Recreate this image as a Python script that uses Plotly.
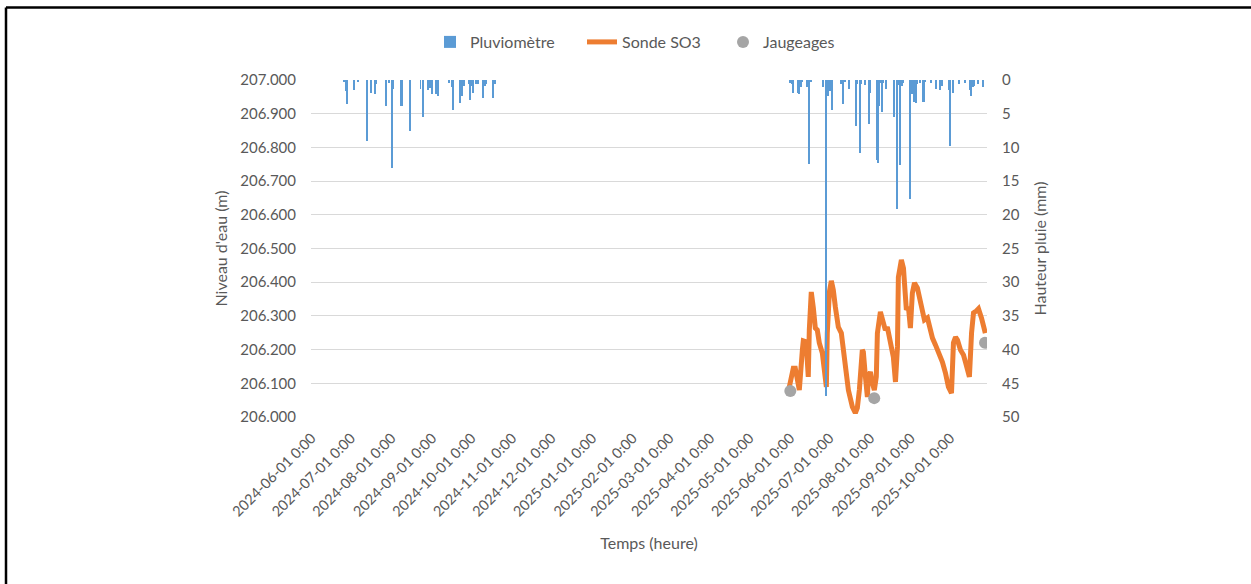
import plotly.graph_objects as go

# ---------------- data ----------------
rain_dates = [
    "2024-06-26", "2024-06-27", "2024-06-28", "2024-07-03", "2024-07-06", "2024-07-13",
    "2024-07-16", "2024-07-19", "2024-07-20", "2024-07-28", "2024-07-30", "2024-08-01",
    "2024-08-02", "2024-08-08", "2024-08-09", "2024-08-15", "2024-08-23", "2024-08-25",
    "2024-08-29", "2024-08-30", "2024-09-01", "2024-09-04", "2024-09-05", "2024-09-14",
    "2024-09-16", "2024-09-17", "2024-09-22", "2024-09-24", "2024-09-25", "2024-09-29",
    "2024-09-30", "2024-10-01", "2024-10-02", "2024-10-04", "2024-10-06", "2024-10-10",
    "2024-10-11", "2024-10-12", "2024-10-17", "2024-10-19",
    "2025-06-01", "2025-06-02", "2025-06-03", "2025-06-07", "2025-06-08", "2025-06-09",
    "2025-06-10", "2025-06-14", "2025-06-15", "2025-06-17", "2025-06-26", "2025-06-28",
    "2025-06-29", "2025-06-30", "2025-07-01", "2025-07-03", "2025-07-10", "2025-07-11",
    "2025-07-13", "2025-07-16", "2025-07-21", "2025-07-22", "2025-07-24", "2025-07-25",
    "2025-07-28", "2025-07-31", "2025-08-01", "2025-08-06", "2025-08-07", "2025-08-08",
    "2025-08-09", "2025-08-10", "2025-08-11", "2025-08-13", "2025-08-19", "2025-08-21",
    "2025-08-23", "2025-08-24", "2025-08-25", "2025-08-26", "2025-08-31", "2025-09-02",
    "2025-09-03", "2025-09-04", "2025-09-05", "2025-09-06", "2025-09-08", "2025-09-10",
    "2025-09-11", "2025-09-12", "2025-09-16", "2025-09-20", "2025-09-23", "2025-09-24",
    "2025-09-25", "2025-09-30", "2025-10-01", "2025-10-03", "2025-10-08", "2025-10-12",
    "2025-10-16", "2025-10-17", "2025-10-18", "2025-10-19", "2025-10-22", "2025-10-26",
]
rain_mm = [
    0.25, 1.6, 3.6, 1.5, 0.25, 9.0,
    2.0, 2.1, 0.6, 3.9, 0.5, 13.1,
    1.4, 3.8, 3.8, 7.5, 1.4, 5.5,
    1.5, 1.2, 2.1, 2.1, 2.4, 0.5,
    1.1, 4.5, 3.4, 2.4, 0.9, 0.6,
    2.9, 0.9, 1.9, 0.6, 0.6, 2.7,
    0.9, 0.6, 2.7, 0.6,
    0.5, 0.6, 2.0, 2.0, 2.1, 1.0,
    0.25, 1.1, 12.4, 0.25, 1.1, 46.9,
    1.7, 2.4, 1.7, 4.5, 0.6, 3.6,
    0.25, 1.4, 6.8, 0.6, 10.8, 0.6,
    0.7, 6.5, 2.0, 11.9, 12.3, 3.9,
    0.5, 4.7, 0.5, 1.4, 5.5, 19.2,
    0.7, 12.6, 0.9, 0.5, 17.7, 2.1,
    3.2, 1.2, 3.4, 0.6, 0.4, 3.2,
    3.2, 0.25, 0.4, 1.4, 1.5, 0.5,
    0.9, 1.5, 9.8, 2.0, 0.6, 0.4,
    1.5, 2.4, 1.1, 0.9, 0.6, 1.1,
]

probe_times = [
    "2025-05-31 06:00", "2025-06-03 07:00", "2025-06-04 19:00", "2025-06-06 08:00",
    "2025-06-07 21:00", "2025-06-10 05:00", "2025-06-10 22:00", "2025-06-13 02:00",
    "2025-06-14 00:00", "2025-06-14 17:00", "2025-06-15 12:00", "2025-06-17 00:00",
    "2025-06-18 14:00", "2025-06-20 02:00", "2025-06-21 14:00", "2025-06-23 03:00",
    "2025-06-25 10:00", "2025-06-27 00:00", "2025-06-28 12:00", "2025-06-29 05:00",
    "2025-06-30 19:00", "2025-07-02 07:00", "2025-07-03 19:00", "2025-07-05 09:00",
    "2025-07-07 15:00", "2025-07-09 22:00", "2025-07-11 12:00", "2025-07-13 17:00",
    "2025-07-15 07:00", "2025-07-18 08:00", "2025-07-20 14:00", "2025-07-22 03:00",
    "2025-07-23 16:00", "2025-07-25 22:00", "2025-07-26 17:00", "2025-07-28 07:00",
    "2025-07-29 19:00", "2025-07-30 12:00", "2025-08-01 02:00", "2025-08-02 14:00",
    "2025-08-04 02:00", "2025-08-05 14:00", "2025-08-06 10:00", "2025-08-08 17:00",
    "2025-08-10 05:00", "2025-08-12 12:00", "2025-08-14 00:00", "2025-08-16 07:00",
    "2025-08-18 14:00", "2025-08-20 05:00", "2025-08-21 17:00", "2025-08-22 10:00",
    "2025-08-24 17:00", "2025-08-26 07:00", "2025-08-27 00:00", "2025-08-28 12:00",
    "2025-08-30 02:00", "2025-08-31 14:00", "2025-09-02 02:00", "2025-09-03 17:00",
    "2025-09-05 22:00", "2025-09-07 12:00", "2025-09-09 19:00", "2025-09-11 07:00",
    "2025-09-13 14:00", "2025-09-15 02:00", "2025-09-17 10:00", "2025-09-19 17:00",
    "2025-09-22 00:00", "2025-09-25 00:00", "2025-09-27 07:00", "2025-09-29 14:00",
    "2025-10-01 22:00", "2025-10-03 10:00", "2025-10-05 00:00", "2025-10-06 12:00",
    "2025-10-08 19:00", "2025-10-11 02:00", "2025-10-12 14:00", "2025-10-14 02:00",
    "2025-10-15 14:00", "2025-10-17 05:00", "2025-10-18 17:00", "2025-10-21 00:00",
    "2025-10-22 12:00", "2025-10-24 19:00", "2025-10-26 07:00", "2025-10-27 17:00",
]
probe_level = [
    206.089, 206.145, 206.145, 206.101,
    206.080, 206.199, 206.226, 206.223,
    206.131, 206.119, 206.258, 206.371,
    206.323, 206.264, 206.258, 206.220,
    206.190, 206.139, 206.089, 206.249,
    206.371, 206.404, 206.377, 206.326,
    206.267, 206.249, 206.190, 206.131,
    206.080, 206.030, 206.012, 206.027,
    206.080, 206.199, 206.193, 206.119,
    206.059, 206.119, 206.134, 206.101,
    206.080, 206.119, 206.249, 206.312,
    206.294, 206.258, 206.267, 206.228,
    206.178, 206.104, 206.208, 206.415,
    206.466, 206.442, 206.377, 206.318,
    206.326, 206.264, 206.368, 206.398,
    206.383, 206.353, 206.303, 206.288,
    206.294, 206.264, 206.234, 206.214,
    206.193, 206.163, 206.131, 206.089,
    206.071, 206.220, 206.237, 206.228,
    206.199, 206.184, 206.163, 206.131,
    206.119, 206.249, 206.309, 206.315,
    206.321, 206.294, 206.264, 206.249,
]

gauge_dates = ["2025-06-01 00:00", "2025-08-04 00:00", "2025-10-27 12:00"]
gauge_level = [206.077, 206.056, 206.220]

tick_dates = [
    "2024-06-01", "2024-07-01", "2024-08-01", "2024-09-01", "2024-10-01", "2024-11-01",
    "2024-12-01", "2025-01-01", "2025-02-01", "2025-03-01", "2025-04-01", "2025-05-01",
    "2025-06-01", "2025-07-01", "2025-08-01", "2025-09-01", "2025-10-01",
]
tick_labels = [d + " 0:00" for d in tick_dates]

# ---------------- figure ----------------
FONT = "Lato"
GREY = "#595959"

fig = go.Figure()
fig.add_trace(go.Bar(
    x=rain_dates, y=rain_mm, name="Pluviomètre", yaxis="y2", legend="legend",
    marker=dict(color="#5B9BD5", line=dict(width=0)),
    width=86400000 * 0.75,
))
fig.add_trace(go.Scatter(
    x=probe_times, y=probe_level, name="Sonde SO3", mode="lines", legend="legend2",
    line=dict(color="#ED7D31", width=5),
))
fig.add_trace(go.Scatter(
    x=gauge_dates, y=gauge_level, name="Jaugeages", mode="markers", legend="legend3",
    marker=dict(color="#A5A5A5", size=12),
))

# plot area: x 311..987, y 80..417 in a 1251x584 page
L, R, T, B = 311, 987, 80, 417
W, H = 1251, 584
pw, ph = R - L, B - T

def px(x):
    return (x - L) / pw

def py(y):
    return (B - y) / ph

def leg(xpix):
    return dict(orientation="h", x=px(xpix), xanchor="left", y=py(42), yanchor="middle",
                font=dict(size=16, color=GREY), bgcolor="rgba(0,0,0,0)")

fig.update_layout(
    width=W, height=H,
    margin=dict(l=L, r=W - R, t=T, b=H - B, pad=0, autoexpand=False),
    paper_bgcolor="white", plot_bgcolor="white",
    font=dict(family=FONT, size=15, color=GREY),
    showlegend=True,
    legend=leg(430), legend2=leg(582), legend3=leg(723),
    bargap=0,
    xaxis=dict(
        type="date",
        range=["2024-05-31 12:00", "2025-10-29 00:00"],
        tickmode="array", tickvals=tick_dates, ticktext=tick_labels,
        tickangle=-45, showgrid=False, zeroline=False, showline=False,
        ticks="", ticklabelstandoff=9, tickfont=dict(size=14.5, color=GREY),
        automargin=False,
        title=dict(text="Temps (heure)", font=dict(size=16, color=GREY), standoff=19),
    ),
    yaxis=dict(
        range=[206.0, 207.0], dtick=0.1, tick0=206.0, tickformat=".3f",
        showgrid=True, gridcolor="#D9D9D9", gridwidth=1.3, zeroline=False,
        showline=False, ticks="", ticklabelstandoff=14, automargin=False,
        tickfont=dict(size=15, color=GREY),
        title=dict(text="Niveau d'eau (m)", font=dict(size=16, color=GREY), standoff=8),
    ),
    yaxis2=dict(
        range=[50, 0], dtick=5, tick0=0, overlaying="y", side="right",
        showgrid=False, zeroline=False, showline=False, ticks="",
        ticklabelstandoff=14, automargin=False,
        tickfont=dict(size=15, color=GREY),
        title=dict(text="Hauteur pluie (mm)", font=dict(size=16, color=GREY), standoff=16),
    ),
    shapes=[
        dict(type="line", xref="paper", yref="paper", x0=px(6), x1=px(1251),
             y0=py(7.5), y1=py(7.5), line=dict(color="black", width=2.5)),
        dict(type="line", xref="paper", yref="paper", x0=px(6), x1=px(6),
             y0=py(7.5), y1=py(584), line=dict(color="black", width=2.5)),
    ],
)

fig.write_html("out.html", config={"displayModeBar": False},
               post_script="document.body.style.margin='0px';")
